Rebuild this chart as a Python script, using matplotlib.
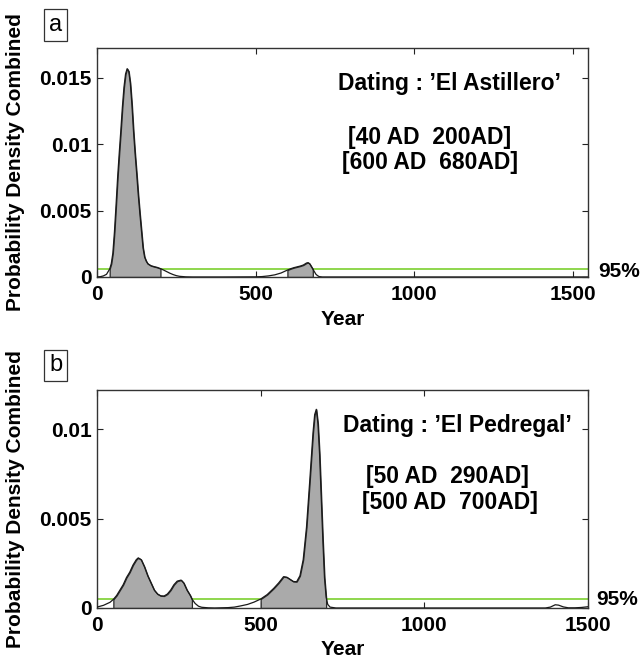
import numpy as np
import matplotlib
matplotlib.use("Agg")
import matplotlib.pyplot as plt

plt.rcParams['font.family'] = ['Liberation Sans', 'DejaVu Sans']
plt.rcParams['font.weight'] = 'bold'

# Panel a: 'El Astillero' combined probability density
years_a = [0, 10, 20, 30, 35, 40, 45, 50, 55, 60, 65, 70, 75, 80, 85, 90, 95,
           100, 105, 110, 115, 120, 125, 130, 135, 140, 145, 150, 155, 160,
           170, 180, 190, 200, 210, 220, 230, 240, 250, 260, 280, 300,
           400, 500, 520, 540, 560, 580, 600, 610, 620, 630, 640, 650, 660,
           665, 670, 675, 680, 685, 690, 695, 700, 710, 1550]
dens_a = [0, 0.00002, 0.00008, 0.0002, 0.0004, 0.0006, 0.001, 0.0018, 0.0034,
          0.0054, 0.0075, 0.0093, 0.0110, 0.0128, 0.0143, 0.0153, 0.0157,
          0.0155, 0.0146, 0.0130, 0.0110, 0.0093, 0.0078, 0.0062, 0.0048,
          0.0035, 0.0022, 0.0015, 0.0012, 0.0010,
          0.00085, 0.00078, 0.00072, 0.00063, 0.00052, 0.0004, 0.00028,
          0.00018, 0.0001, 0.00005, 0.00001, 0,
          0, 0.00001, 0.00003, 0.00008, 0.00016, 0.0003, 0.00052, 0.00062,
          0.0007, 0.00076, 0.00082, 0.0009, 0.00105, 0.00108, 0.001, 0.0008,
          0.0006, 0.0004, 0.0002, 0.0001, 0.00003, 0, 0]
ranges_a = [(40, 200), (600, 680)]
level_a = 0.0006

# Panel b: 'El Pedregal' combined probability density
years_b = [0, 20, 40, 50, 60, 70, 80, 90, 100, 110, 120, 126, 135, 145, 155,
           165, 175, 185, 195, 205, 215, 225, 235, 245, 257, 265, 275, 285,
           290, 300, 310, 320, 340, 360, 400, 420, 440, 460, 480, 500, 520,
           540, 555, 570, 580, 590, 600, 610, 620, 630, 640, 650, 660, 665,
           670, 675, 680, 685, 690, 695, 700, 705, 712, 730, 1370, 1385,
           1400, 1410, 1425, 1440, 1460, 1480, 1500]
dens_b = [0.00005, 0.00015, 0.00032, 0.00048, 0.0007, 0.001, 0.0013, 0.0017,
          0.002, 0.0024, 0.0027, 0.0028, 0.0027, 0.0023, 0.0018, 0.0014,
          0.001, 0.00078, 0.00068, 0.00067, 0.00078, 0.001, 0.0013, 0.0015,
          0.00156, 0.0014, 0.001, 0.0007, 0.0005, 0.00025, 0.0001, 0.00004,
          0.00001, 0, 0.00002, 0.00005, 0.00012, 0.0002, 0.00033, 0.0005,
          0.00075, 0.0011, 0.0014, 0.00175, 0.00172, 0.0016, 0.00148,
          0.00147, 0.0018, 0.0027, 0.0045, 0.0071, 0.0098, 0.0108, 0.0111,
          0.0103, 0.0086, 0.0062, 0.0038, 0.0017, 0.0006, 0.0002, 0.00005,
          0, 0, 0.00005, 0.00018, 0.00016, 0.00006, 0.00001, 0.00001,
          0.00003, 0.00007]
ranges_b = [(50, 290), (500, 700)]
level_b = 0.0005

fig = plt.figure(figsize=(6.44, 6.59), dpi=100)
ax_a = fig.add_axes([0.1506, 0.5797, 0.7624, 0.3475])
ax_b = fig.add_axes([0.1506, 0.0774, 0.7624, 0.3308])


def draw_panel(ax, years, dens, ranges, level, xmax, ymax, yticks, yticklabels,
               title, lines, pos, pct_pos, xlab_y):
    x = np.array(years, dtype=float)
    y = np.array(dens, dtype=float)
    for lo, hi in ranges:
        m = (x >= lo) & (x <= hi)
        ax.fill_between(x[m], 0, y[m], facecolor='#aaaaaa',
                        edgecolor='#2a2a2a', linewidth=0.9, zorder=2)
    ax.plot(x, y, color='#1a1a1a', linewidth=0.9, zorder=3)
    ax.axhline(level, color='#86d33f', linewidth=1.3, zorder=1)
    ax.set_xlim(0, xmax)
    ax.set_ylim(0, ymax)
    ax.set_xticks([0, 500, 1000, 1500])
    ax.set_yticks(yticks)
    ax.set_yticklabels(yticklabels)
    ax.tick_params(direction='in', length=4.5, width=0.8, top=True, right=True,
                   labelsize=15, colors='#222222', labelcolor='black')
    ax.tick_params(axis='x', pad=6)
    ax.tick_params(axis='y', pad=4)
    for s in ax.spines.values():
        s.set_color('#333333')
        s.set_linewidth(1.0)
    ax.set_xlabel('Year', fontsize=15, fontweight='bold')
    ax.xaxis.set_label_coords(0.5, xlab_y)
    ax.set_ylabel('Probability Density Combined', fontsize=15,
                  fontweight='bold')
    ax.yaxis.set_label_coords(-0.147, 0.5)
    ax.text(pos[0][0], pos[0][1], title, transform=ax.transAxes,
            ha='center', va='center', fontsize=16.5, fontweight='bold')
    for (tx, ty), s in zip(pos[1:], lines):
        ax.text(tx, ty, s, transform=ax.transAxes, ha='center', va='center',
                fontsize=16.5, fontweight='bold')
    ax.text(pct_pos[0], pct_pos[1], '95%', transform=ax.transAxes,
            ha='left', va='center', fontsize=15, fontweight='bold',
            clip_on=False)


draw_panel(ax_a, years_a, dens_a, ranges_a, level_a, 1547, 0.01726,
           [0, 0.005, 0.01, 0.015], ['0', '0.005', '0.01', '0.015'],
           "Dating : \u2019El Astillero\u2019",
           ['[40 AD  200AD]', '[600 AD  680AD]'],
           [(0.717, 0.847), (0.678, 0.611), (0.678, 0.498)],
           (1.020, 0.022), -0.145)

draw_panel(ax_b, years_b, dens_b, ranges_b, level_b, 1500, 0.01218,
           [0, 0.005, 0.01], ['0', '0.005', '0.01'],
           "Dating : \u2019El Pedregal\u2019",
           ['[50 AD  290AD]', '[500 AD  700AD]'],
           [(0.733, 0.839), (0.713, 0.601), (0.719, 0.482)],
           (1.016, 0.037), -0.145)

for lab, yy in [('a', 0.962), ('b', 0.4454)]:
    fig.text(0.0862, yy, lab, ha='center', va='center', fontsize=17,
             fontweight='normal',
             bbox=dict(boxstyle='square,pad=0.2', facecolor='white',
                       edgecolor='#333333', linewidth=0.9))

fig.savefig('out.png', dpi=100)
